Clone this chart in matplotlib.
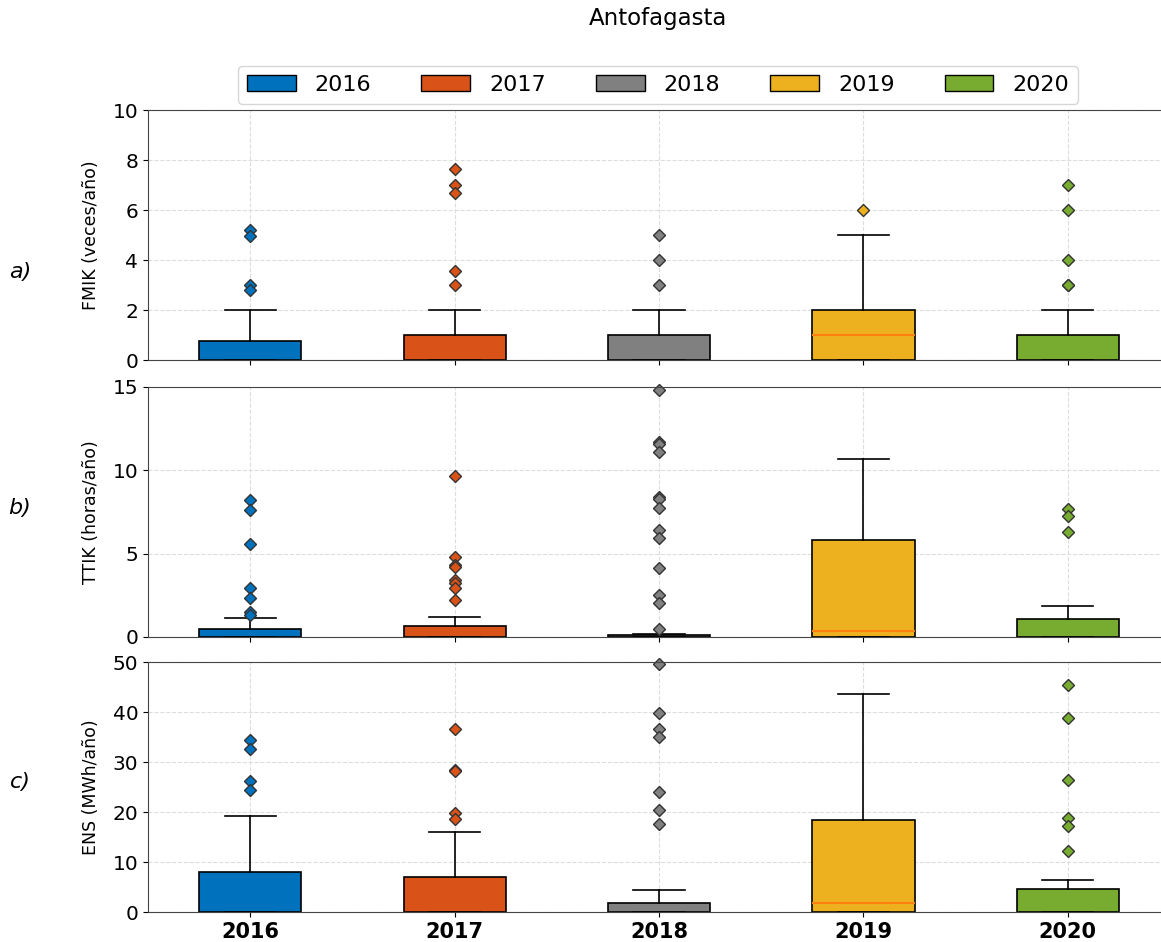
import matplotlib
matplotlib.use("Agg")
import matplotlib.pyplot as plt
from matplotlib.patches import Patch

years = ['2016', '2017', '2018', '2019', '2020']
colors = ['#0072BD', '#D95319', '#808080', '#EDB120', '#77AC30']

# FMIK (veces/año): q1, median, q3, upper whisker, outliers
fmik_q1 = [0, 0, 0, 0, 0]
fmik_med = [0, 0, 0, 1, 0]
fmik_q3 = [0.76, 1.0, 1.0, 2.0, 1.0]
fmik_hi = [2, 2, 2, 5, 2]
fmik_out = [
    [5.22, 4.95, 3.0, 2.8],
    [7.66, 7.0, 6.67, 3.57, 3.0],
    [5.0, 4.0, 3.0],
    [6.0],
    [7.0, 6.0, 4.0, 3.0, 3.0],
]

# TTIK (horas/año)
ttik_q1 = [0, 0, 0, 0, 0]
ttik_med = [0, 0, 0, 0.34, 0]
ttik_q3 = [0.48, 0.68, 0.1, 5.84, 1.06]
ttik_hi = [1.12, 1.18, 0.18, 10.66, 1.88]
ttik_out = [
    [8.2, 7.65, 5.6, 2.96, 2.32, 1.52, 1.35],
    [9.66, 4.8, 4.3, 4.2, 3.45, 3.25, 2.95, 2.2],
    [14.8, 11.68, 11.6, 11.1, 8.4, 8.3, 7.72, 6.4, 5.94, 4.16, 2.5, 2.04, 0.5],
    [],
    [7.66, 7.26, 6.3],
]

# ENS (MWh/año)
ens_q1 = [0, 0, 0, 0, 0]
ens_med = [0, 0, 0, 1.85, 0]
ens_q3 = [8.0, 7.0, 1.85, 18.5, 4.7]
ens_hi = [19.2, 16.0, 4.5, 43.7, 6.4]
ens_out = [
    [34.5, 32.6, 26.3, 24.4],
    [36.7, 28.5, 28.2, 19.9, 18.7],
    [49.6, 39.8, 36.7, 35.0, 24.0, 20.4, 17.6],
    [],
    [45.4, 38.9, 26.5, 18.8, 17.3, 12.2],
]

panels = [
    ('a)', 'FMIK (veces/año)', fmik_q1, fmik_med, fmik_q3, fmik_hi, fmik_out, 10, [0, 2, 4, 6, 8, 10]),
    ('b)', 'TTIK (horas/año)', ttik_q1, ttik_med, ttik_q3, ttik_hi, ttik_out, 15, [0, 5, 10, 15]),
    ('c)', 'ENS (MWh/año)', ens_q1, ens_med, ens_q3, ens_hi, ens_out, 50, [0, 10, 20, 30, 40, 50]),
]

fig = plt.figure(figsize=(11.61, 9.42), dpi=100)
left, right = 148 / 1161, 1170 / 1161
tops = [110, 387, 662]
tag_y = [272, 508, 782]
h = 250

for i, (tag, ylab, q1, med, q3, hi, out, ymax, yt) in enumerate(panels):
    ax = fig.add_axes([left, 1 - (tops[i] + h) / 942, right - left, h / 942])
    stats = []
    for j in range(len(years)):
        stats.append(dict(q1=q1[j], med=med[j], q3=q3[j], whislo=q1[j],
                          whishi=hi[j], fliers=out[j], label=years[j]))
    bp = ax.bxp(stats, positions=range(1, 6), widths=0.5, patch_artist=True,
                showfliers=True,
                boxprops=dict(edgecolor='black', linewidth=1.2),
                whiskerprops=dict(color='black', linewidth=1.2),
                capprops=dict(color='black', linewidth=1.2),
                medianprops=dict(color='#ff7f0e', linewidth=1.5))
    for patch, c in zip(bp['boxes'], colors):
        patch.set_facecolor(c)
    # medians sitting on the lower edge stay hidden under the box outline
    for m, s in zip(bp['medians'], stats):
        if s['med'] == s['q1']:
            m.set_visible(False)
    for fl, c in zip(bp['fliers'], colors):
        fl.set(marker='D', markerfacecolor=c, markeredgecolor='#333333',
               markersize=6.5, markeredgewidth=1.0)
        fl.set_clip_on(False)
    ax.set_xlim(0.5, 5.5)
    ax.set_ylim(0, ymax)
    ax.set_yticks(yt)
    ax.tick_params(axis='y', labelsize=14.5)
    ax.set_ylabel(ylab, fontsize=12.5)
    ax.yaxis.set_label_coords(-0.047, 0.5)
    ax.grid(True, linestyle='--', color='#dddddd', linewidth=0.8)
    ax.set_axisbelow(True)
    ax.spines['right'].set_visible(False)
    for s in ax.spines.values():
        s.set_color('#444444')
    if i < 2:
        ax.set_xticklabels([])
    else:
        ax.set_xticklabels(years, fontsize=15, fontweight='bold')
    fig.text(20 / 1161, 1 - tag_y[i] / 942, tag, fontsize=16,
             style='italic', ha='center', va='center')

handles = [Patch(facecolor=c, edgecolor='black', label=y) for y, c in zip(years, colors)]
fig.legend(handles=handles, loc='center', ncol=5, fontsize=16,
           bbox_to_anchor=(658 / 1161, 1 - 85 / 942), frameon=True,
           handlelength=2.2, handleheight=0.75, handletextpad=0.85,
           columnspacing=2.25)

fig.suptitle('Antofagasta', fontsize=16.5, x=658 / 1161, y=1 - 18 / 942, va='center')

fig.savefig('out.png', dpi=100)
